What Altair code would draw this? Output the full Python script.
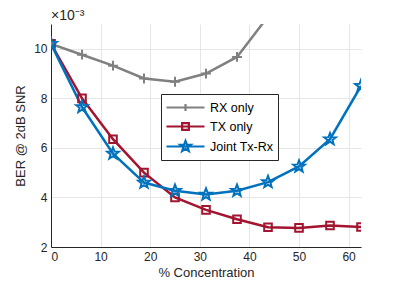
import math
import altair as alt
import pandas as pd

conc = [0, 6.25, 12.5, 18.75, 25, 31.25, 37.5, 43.75, 50, 56.25, 62.5]
rx_only = [10.2, 9.76, 9.32, 8.8, 8.67, 9.0, 9.67, 11.3]
tx_only = [10.2, 8.0, 6.35, 5.0, 4.0, 3.5, 3.12, 2.8, 2.77, 2.87, 2.81]
joint = [10.2, 7.65, 5.77, 4.6, 4.27, 4.12, 4.27, 4.62, 5.25, 6.35, 8.5]

names = ["RX only", "TX only", "Joint Tx-Rx"]
colors = ["#808080", "#A2142F", "#0072BD"]

rows = []
for name, vals in zip(names, [rx_only, tx_only, joint]):
    for x, v in zip(conc, vals):
        rows.append({"series": name, "x": x, "y": v})
df = pd.DataFrame(rows)


def star(scale, cx=0.0, inner=0.42):
    pts = []
    for i in range(10):
        r = scale if i % 2 == 0 else scale * inner
        a = -math.pi / 2 + i * math.pi / 5
        pts.append((cx + r * math.cos(a), r * math.sin(a)))
    return "M" + "L".join(f"{px:.3f},{py:.3f}" for px, py in pts) + "Z"


def plus(s, cx=0.0):
    return f"M{cx - s:.3f},0H{cx + s:.3f}M{cx:.3f},{-s:.3f}V{s:.3f}"


def square(s, cx=0.0):
    return f"M{cx - s:.3f},{-s:.3f}H{cx + s:.3f}V{s:.3f}H{cx - s:.3f}Z"


point_paths = [plus(0.8), square(0.62), star(1.0)]
mc = 1.375
legend_paths = ["M-1,0H3.75" + plus(0.45, mc), "M-1,0H3.75" + square(0.42, mc),
                "M-1,0H3.75" + star(0.7, mc)]

xscale = alt.Scale(domain=[0, 62.5], nice=False, zero=False)
yscale = alt.Scale(domain=[2, 11], nice=False, zero=False)

base = alt.Chart(df)

xenc = alt.X("x:Q", scale=xscale,
             axis=alt.Axis(values=[0, 10, 20, 30, 40, 50, 60], title="% Concentration"))
yenc = alt.Y("y:Q", scale=yscale,
             axis=alt.Axis(values=[2, 4, 6, 8, 10], title="BER @ 2dB SNR"))

color_main = alt.Color("series:N", scale=alt.Scale(domain=names, range=colors), legend=None)

lines = base.mark_line(strokeWidth=2.5, clip=True).encode(
    x=xenc, y=yenc, color=color_main, detail="series:N")

points = base.mark_point(filled=False, strokeWidth=2, size=150, clip=True, opacity=1).encode(
    x=xenc, y=yenc, color=color_main,
    shape=alt.Shape("series:N", scale=alt.Scale(domain=names, range=point_paths), legend=None))

legend_layer = base.transform_filter("false").mark_point(filled=False, strokeWidth=2, opacity=1).encode(
    x=xenc, y=yenc,
    color=alt.Color("series:N", scale=alt.Scale(domain=names, range=colors),
                    legend=alt.Legend(title=None, orient="none", legendX=110, legendY=70,
                                      symbolSize=256, symbolStrokeWidth=2.2,
                                      labelFontSize=12.5, labelColor="#000000",
                                      labelFont="Liberation Sans",
                                      strokeColor="#262626", fillColor="white",
                                      padding=4, rowPadding=1, labelOffset=26)),
    shape=alt.Shape("series:N", scale=alt.Scale(domain=names, range=legend_paths), legend=None))

chart = alt.layer(lines, points, legend_layer).resolve_scale(
    color="independent", shape="independent"
).properties(
    width=310, height=223,
    padding={"left": 43, "top": 16, "right": 30, "bottom": 33},
    autosize=alt.AutoSizeParams(type="none"),
    title=alt.TitleParams("×10⁻³", anchor="start", frame="group", fontSize=14,
                          fontWeight="normal", font="Liberation Sans", color="#262626",
                          offset=1),
).configure_view(stroke=None).configure_axis(
    labelFont="Liberation Sans", titleFont="Liberation Sans",
    labelFontSize=12, titleFontSize=13, labelColor="#262626", titleColor="#262626",
    titleFontWeight="normal", gridColor="#e6e6e6", gridWidth=1,
    domainColor="#262626", domainWidth=1, ticks=False, labelPadding=4,
).configure_axisX(titlePadding=4).configure_axisY(titlePadding=6)

chart.save("out.html", embed_options={"renderer": "svg", "actions": False})
